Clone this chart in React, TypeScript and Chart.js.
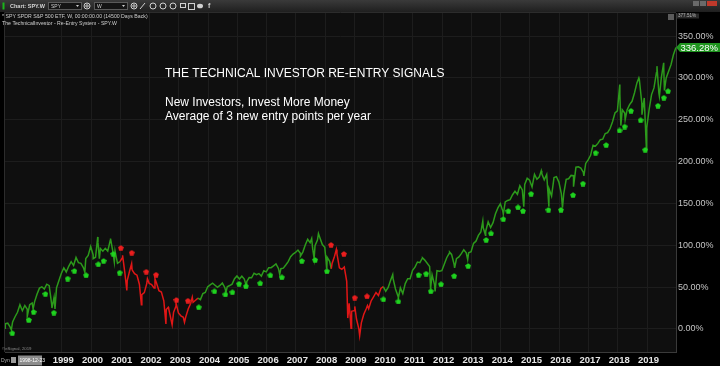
import React, { useEffect, useRef } from "react";
import { Chart, registerables } from "chart.js";

Chart.register(...registerables);

// ---------- data (percent change of SPY weekly) ----------
const yearTicks = [1999, 2000, 2001, 2002, 2003, 2004, 2005, 2006, 2007, 2008, 2009, 2010, 2011, 2012, 2013, 2014, 2015, 2016, 2017, 2018, 2019];
const pctTicks = [0, 50, 100, 150, 200, 250, 300, 350];

const startDate = "1997-01-24";
const startPct = 1;

// month-end values per year (Jan..Dec), percent
const pct1997 = [6.2, 6.9, 2.2, 8.4, 14.6, 19.9, 28.9, 21.8, 28.1, 23.5, 29.1, 31.1];
const pct1998 = [32.4, 41.6, 48.8, 50.4, 47.7, 53.5, 51.8, 29.7, 37.8, 49.1, 58.0, 66.6];
const pct1999 = [73.0, 68.1, 74.9, 80.4, 75.8, 85.5, 79.2, 78.4, 73.4, 84.1, 87.8, 98.5];
const pct2000 = [88.7, 85.7, 103.2, 96.1, 93.0, 96.4, 93.1, 105.4, 94.1, 93.2, 78.4, 80.4];
const pct2001 = [85.1, 67.6, 57.7, 69.5, 70.7, 66.1, 64.2, 53.2, 41.1, 43.4, 54.2, 54.5];
const pct2002 = [53.0, 48.9, 55.0, 45.7, 44.2, 33.7, 23.2, 24.3, 10.5, 19.9, 27.3, 19.2];
const pct2003 = [15.7, 13.9, 14.5, 23.8, 30.4, 31.9, 34.3, 36.8, 35.1, 42.2, 43.6, 50.4];
const pct2004 = [52.7, 54.7, 52.2, 49.7, 52.0, 54.9, 49.6, 50.4, 51.9, 53.6, 60.0, 63.4];
const pct2005 = [59.7, 63.0, 59.7, 56.5, 61.5, 61.2, 66.6, 65.0, 66.2, 63.2, 69.5, 68.2];
const pct2006 = [73.2, 73.2, 75.4, 77.7, 72.3, 72.0, 72.7, 76.5, 80.5, 86.4, 89.5, 91.4];
const pct2007 = [94.3, 90.4, 91.9, 100.4, 107.2, 103.2, 96.8, 99.5, 106.2, 109.1, 100.9, 97.6];
const pct2008 = [85.7, 80.8, 78.3, 86.9, 89.7, 73.0, 71.4, 74.0, 56.8, 30.8, 21.1, 21.9];
const pct2009 = [11.9, -0.1, 7.4, 17.6, 24.2, 24.3, 33.5, 38.5, 43.6, 40.0, 48.5, 50.5];
const pct2010 = [45.1, 49.6, 58.1, 60.5, 47.8, 39.5, 49.1, 42.3, 54.2, 60.1, 60.1, 70.0];
const pct2011 = [73.9, 80.0, 79.2, 84.5, 82.3, 78.5, 74.7, 64.7, 53.0, 69.6, 68.9, 69.6];
const pct2012 = [77.4, 85.1, 90.3, 89.1, 77.7, 83.9, 86.1, 90.0, 94.6, 91.0, 91.1, 92.4];
const pct2013 = [102.3, 104.9, 111.8, 115.8, 120.9, 116.8, 128.0, 121.2, 127.0, 137.6, 144.6, 149.6];
const pct2014 = [140.8, 151.8, 153.6, 154.5, 160.4, 164.5, 160.9, 171.2, 166.2, 172.6, 180.0, 177.7];
const pct2015 = [169.6, 184.7, 178.9, 181.8, 185.3, 178.2, 184.5, 167.2, 158.9, 180.9, 182.0, 175.5];
const pct2016 = [161.8, 161.6, 178.8, 179.5, 183.5, 183.1, 193.4, 193.8, 192.3, 187.3, 197.8, 202.0];
const pct2017 = [207.5, 219.6, 218.5, 221.7, 226.2, 226.8, 233.5, 234.5, 239.5, 247.6, 258.1, 260.7];
const pct2018 = [280.9, 262.0, 258.0, 262.0, 268.0, 272.0, 282.0, 294.0, 298.0, 270.0, 276.0, 240.0];
const pct2019 = [262.0, 280.0, 288.0, 306.0, 282.0, 300.0, 312.0, 300.0, 308.0, 316.0, 328.0, 336.28];
const closeYears = [1997, 1998, 1999, 2000, 2001, 2002, 2003, 2004, 2005, 2006, 2007, 2008, 2009, 2010, 2011, 2012, 2013, 2014, 2015, 2016, 2017, 2018, 2019];
const closeRows = [pct1997, pct1998, pct1999, pct2000, pct2001, pct2002, pct2003, pct2004, pct2005, pct2006, pct2007, pct2008, pct2009, pct2010, pct2011, pct2012, pct2013, pct2014, pct2015, pct2016, pct2017, pct2018, pct2019];

// intra-month swings (spikes / dips)
const swingDates = [
  "1997-04-11", "1997-10-27", "1998-01-09", "1998-08-31", "1998-10-08", "1999-10-15", "2000-01-28", "2000-03-24",
  "2000-04-14", "2000-09-01", "2000-10-18", "2001-01-30", "2001-03-22", "2001-05-21", "2001-09-21", "2001-12-05",
  "2002-03-08", "2002-07-23", "2002-08-22", "2002-10-09", "2002-11-27", "2003-03-11", "2003-06-17", "2004-08-12",
  "2005-04-20", "2006-06-13", "2007-02-27", "2007-07-16", "2007-08-16", "2007-10-09", "2008-01-22", "2008-03-17",
  "2008-05-19", "2008-10-10", "2008-11-20", "2009-01-06", "2009-03-06", "2009-06-12", "2010-04-23", "2010-07-02",
  "2011-04-29", "2011-08-08", "2011-10-04", "2012-04-02", "2012-06-04", "2012-11-15", "2013-05-21", "2013-06-24",
  "2014-02-03", "2014-10-15", "2015-05-20", "2015-08-24", "2016-02-11", "2016-06-27", "2016-11-04", "2018-01-26",
  "2018-02-09", "2018-04-02", "2018-09-21", "2018-10-29", "2018-12-24", "2019-05-03", "2019-06-03", "2019-07-26",
  "2019-08-05",
];
const swingPct = [
  -1, 15, 24, 25, 24, 68, 84, 110,
  84, 108, 80, 88, 46, 78, 29, 60,
  60, 6, 26, 5, 31, 8, 38, 44,
  52, 65, 87, 108, 84, 114, 72, 72,
  95, 13, 1, 27, -8, 28, 65, 37,
  85, 48, 45, 92, 73, 83, 129, 112,
  137, 146, 189, 146, 145, 170, 183, 292,
  243, 250, 300, 256, 214, 314, 278, 318,
  285,
];

// re-entry signals (green, below the line)
const entryDates = [
  "1997-04-23", "1997-11-17", "1998-01-15", "1998-06-10", "1998-09-24", "1999-03-14", "1999-06-07", "1999-10-31",
  "2000-04-01", "2000-06-06", "2000-10-05", "2000-12-24", "2003-09-06", "2004-03-20", "2004-08-04", "2004-10-31",
  "2005-01-23", "2005-04-17", "2005-10-12", "2006-02-17", "2006-07-09", "2007-03-14", "2007-08-29", "2008-01-23",
  "2009-12-28", "2010-07-02", "2011-03-11", "2011-06-14", "2011-08-11", "2011-12-17", "2012-05-29", "2012-11-21",
  "2013-07-02", "2013-09-02", "2014-02-03", "2014-04-05", "2014-08-04", "2014-10-05", "2015-01-15", "2015-08-19",
  "2016-01-23", "2016-06-21", "2016-10-23", "2017-03-29", "2017-08-08", "2018-01-23", "2018-03-26", "2018-06-14",
  "2018-10-12", "2018-12-09", "2019-05-16", "2019-07-28", "2019-09-20",
];
const entryPct = [
  -5, 10.8, 20.3, 41.9, 19.5, 60.2, 69.4, 64.2,
  77.4, 81.3, 89.7, 67.3, 26.0, 45.1, 41.3, 43.9,
  54.1, 51.1, 54.7, 64.2, 61.8, 81.3, 82.5, 69.0,
  35.5, 32.9, 64.6, 66.1, 45.1, 53.5, 63.4, 75.3,
  106.4, 114.2, 131.3, 140.9, 145.3, 141.1, 161.5, 142.3,
  142.3, 160.0, 173.7, 210.5, 219.8, 237.2, 241.8, 260.7,
  249.4, 214.1, 266.7, 276.3, 284.1,
];

// exit signals (red, above the line)
const exitDates = ["2001-01-08", "2001-05-22", "2001-11-21", "2002-03-21", "2002-12-02", "2003-04-23", "2008-03-14", "2008-08-22", "2009-01-05", "2009-06-07"];
const exitPct = [96.9, 91.1, 68.4, 64.8, 34.7, 33.8, 100.5, 89.7, 37.4, 39.1];

const lastPct = 336.28;
const scaleTopPct = 377.51;
const scaleBottomPct = -27.5;
const firstVisible = 1997.061;
const lastVisible = 2019.99;

// ---------- helpers ----------
const GREEN_LINE = "#2c9a1b";
const RED_LINE = "#e01616";
const GREEN_DOT = "#1fd21f";
const RED_DOT = "#ea1e1e";
const FONT = "'Liberation Sans', Arial, sans-serif";

function toYear(d: string): number {
  const [y, m, dd] = d.split("-").map(Number);
  return y + (m - 1) / 12 + (dd - 1) / 365;
}

function buildLine() {
  const pts: { x: number; y: number }[] = [{ x: toYear(startDate), y: startPct }];
  closeYears.forEach((yr, i) => {
    closeRows[i].forEach((v, m) => {
      const mm = String(m + 1).padStart(2, "0");
      pts.push({ x: toYear(`${yr}-${mm}-27`), y: v });
    });
  });
  swingDates.forEach((d, i) => pts.push({ x: toYear(d), y: swingPct[i] }));
  pts.sort((a, b) => a.x - b.x);
  return pts;
}

const signals = [
  ...entryDates.map((d) => ({ x: toYear(d), red: false })),
  ...exitDates.map((d) => ({ x: toYear(d), red: true })),
].sort((a, b) => a.x - b.x);

function isRed(x: number): boolean {
  let red = false;
  for (const s of signals) {
    if (s.x <= x) red = s.red;
    else break;
  }
  return red;
}

function makeMarker(color: string): HTMLCanvasElement {
  const c = document.createElement("canvas");
  c.width = 6;
  c.height = 6;
  const g = c.getContext("2d")!;
  g.fillStyle = color;
  g.beginPath();
  for (let i = 0; i < 5; i++) {
    const a = -Math.PI / 2 + (i * 2 * Math.PI) / 5;
    const px = 3 + 3 * Math.cos(a);
    const py = 3.3 + 3 * Math.sin(a);
    if (i === 0) g.moveTo(px, py);
    else g.lineTo(px, py);
  }
  g.closePath();
  g.fill();
  return c;
}

const backgroundPlugin = {
  id: "bgPlugin",
  beforeDraw(chart: any) {
    const { ctx, chartArea } = chart;
    ctx.save();
    ctx.fillStyle = "#000000";
    ctx.fillRect(0, 0, chart.width, chart.height);
    ctx.fillStyle = "#0f0f0f";
    ctx.fillRect(chartArea.left, chartArea.top, chartArea.right - chartArea.left, chartArea.bottom - chartArea.top);
    ctx.restore();
  },
};

const decorPlugin = {
  id: "decorPlugin",
  afterDraw(chart: any) {
    const { ctx, chartArea } = chart;
    const yScale = chart.scales.y;
    ctx.save();

    // plot frame (left/top)
    ctx.strokeStyle = "#2c2c2c";
    ctx.lineWidth = 1;
    ctx.beginPath();
    ctx.moveTo(chartArea.left - 0.5, chartArea.bottom);
    ctx.lineTo(chartArea.left - 0.5, chartArea.top - 0.5);
    ctx.lineTo(chartArea.right, chartArea.top - 0.5);
    ctx.stroke();

    // toolbar
    const grad = ctx.createLinearGradient(0, 0, 0, 12);
    grad.addColorStop(0, "#3a3a3a");
    grad.addColorStop(1, "#1f1f1f");
    ctx.fillStyle = grad;
    ctx.fillRect(0, 0, chart.width, 12);
    ctx.fillStyle = "#1bb51b";
    ctx.fillRect(2.5, 2.5, 2, 7);
    ctx.textBaseline = "middle";
    ctx.fillStyle = "#d6d6d6";
    ctx.font = `bold 5.5px ${FONT}`;
    ctx.fillText("Chart: SPY.W", 10, 6.2);

    const box = (x: number, w: number, label: string) => {
      ctx.fillStyle = "#141414";
      ctx.fillRect(x, 2.5, w, 7);
      ctx.strokeStyle = "#5a5a5a";
      ctx.strokeRect(x + 0.5, 2.5, w - 1, 7);
      ctx.fillStyle = "#cfcfcf";
      ctx.font = `5px ${FONT}`;
      ctx.fillText(label, x + 3, 6.2);
      ctx.beginPath();
      ctx.moveTo(x + w - 6, 5);
      ctx.lineTo(x + w - 3, 5);
      ctx.lineTo(x + w - 4.5, 7);
      ctx.closePath();
      ctx.fill();
    };
    const ring = (x: number) => {
      ctx.strokeStyle = "#d0d0d0";
      ctx.lineWidth = 1;
      ctx.beginPath();
      ctx.arc(x, 6, 3, 0, Math.PI * 2);
      ctx.stroke();
      ctx.beginPath();
      ctx.arc(x, 6, 1.2, 0, Math.PI * 2);
      ctx.stroke();
    };
    box(48, 34, "SPY");
    ring(87);
    box(94, 34, "W");
    ring(134);
    ctx.strokeStyle = "#d0d0d0";
    ctx.beginPath();
    ctx.moveTo(140, 9);
    ctx.lineTo(145, 3);
    ctx.stroke();
    [153, 163, 173].forEach((x) => {
      ctx.beginPath();
      ctx.arc(x, 6, 3, 0, Math.PI * 2);
      ctx.stroke();
    });
    ctx.strokeRect(180.5, 3.5, 5, 4);
    ctx.strokeRect(188.5, 3.5, 6, 6);
    ctx.fillStyle = "#d0d0d0";
    ctx.beginPath();
    ctx.ellipse(200, 6, 3, 2.3, 0, 0, Math.PI * 2);
    ctx.fill();
    ctx.font = `bold 7px ${FONT}`;
    ctx.fillText("f", 208, 6.5);
    // window buttons
    ctx.fillStyle = "#6a6a6a";
    ctx.fillRect(693, 1, 6, 5);
    ctx.fillRect(700, 1, 6, 5);
    ctx.fillStyle = "#c0392b";
    ctx.fillRect(707, 1, 10, 5);

    // header lines in plot
    ctx.fillStyle = "#cfcfcf";
    ctx.font = `5.2px ${FONT}`;
    ctx.fillText("* SPY SPDR S&P 500 ETF, W, 00:00:00.00 (14500 Days Back)", 2, 16.8);
    ctx.fillText("The TechnicalInvestor - Re-Entry System - SPY.W", 2, 23.5);

    // title text
    ctx.fillStyle = "#ffffff";
    ctx.font = `12px ${FONT}`;
    ctx.fillText("THE TECHNICAL INVESTOR RE-ENTRY SIGNALS", 165, 74);
    ctx.fillText("New Investors, Invest More Money", 165, 103);
    ctx.fillText("Average of 3 new entry points per year", 165, 117);

    // top-right scale marker
    ctx.fillStyle = "#5c5c5c";
    ctx.fillRect(668, 14, 6, 6);
    ctx.fillStyle = "#2a2a2a";
    ctx.fillRect(677, 13.5, 22, 5);
    ctx.fillStyle = "#b8b8b8";
    ctx.font = `4.6px ${FONT}`;
    ctx.fillText(scaleTopPct.toFixed(2) + "%", 678, 16.2);

    // last value label
    const ly = yScale.getPixelForValue(lastPct);
    ctx.fillStyle = "#1f951f";
    ctx.beginPath();
    ctx.moveTo(676, ly);
    ctx.lineTo(680, ly - 4.5);
    ctx.lineTo(720, ly - 4.5);
    ctx.lineTo(720, ly + 4.5);
    ctx.lineTo(680, ly + 4.5);
    ctx.closePath();
    ctx.fill();
    ctx.fillStyle = "#ffffff";
    ctx.font = `9.5px ${FONT}`;
    ctx.fillText(lastPct.toFixed(2) + "%", 680.5, ly + 0.5);

    // bottom left
    ctx.fillStyle = "#8a8a8a";
    ctx.font = `4.3px ${FONT}`;
    ctx.fillText("©eSignal, 2019", 2, 349);
    ctx.fillStyle = "#b0b0b0";
    ctx.font = `5px ${FONT}`;
    ctx.fillText("Dyn", 1, 361);
    ctx.fillStyle = "#9a9a9a";
    ctx.fillRect(11, 357, 5, 6);
    ctx.fillStyle = "#8c8c8c";
    ctx.fillRect(18, 355.5, 24, 10);
    ctx.fillStyle = "#ffffff";
    ctx.font = `5px ${FONT}`;
    ctx.fillText("1998-12-23", 19.5, 361);

    ctx.restore();
  },
};

export default function App() {
  const ref = useRef<HTMLCanvasElement | null>(null);

  useEffect(() => {
    document.body.style.margin = "0";
    document.body.style.background = "#000";
    const canvas = ref.current;
    if (!canvas) return;
    const linePts = buildLine();
    const entryPts = entryDates.map((d, i) => ({ x: toYear(d), y: entryPct[i] }));
    const exitPts = exitDates.map((d, i) => ({ x: toYear(d), y: exitPct[i] }));
    const greenMarker = makeMarker(GREEN_DOT);
    const redMarker = makeMarker(RED_DOT);

    const chart = new Chart(canvas, {
      type: "line",
      data: {
        datasets: [
          {
            type: "scatter",
            data: entryPts,
            pointStyle: greenMarker as any,
            pointRadius: 3,
            showLine: false,
            order: 1,
          } as any,
          {
            type: "scatter",
            data: exitPts,
            pointStyle: redMarker as any,
            pointRadius: 3,
            showLine: false,
            order: 1,
          } as any,
          {
            type: "line",
            data: linePts,
            borderColor: GREEN_LINE,
            borderWidth: 1.5,
            pointRadius: 0,
            tension: 0,
            order: 2,
            segment: {
              borderColor: (c: any) => (isRed((c.p0.parsed.x + c.p1.parsed.x) / 2) ? RED_LINE : GREEN_LINE),
            },
          } as any,
        ],
      },
      options: {
        animation: false,
        responsive: false,
        maintainAspectRatio: false,
        events: [],
        layout: { padding: { left: 2, top: 13, right: 0, bottom: 0 } },
        plugins: { legend: { display: false }, tooltip: { enabled: false }, title: { display: false } },
        scales: {
          x: {
            type: "linear",
            position: "bottom",
            min: firstVisible,
            max: lastVisible,
            afterBuildTicks: (s: any) => {
              s.ticks = yearTicks.map((v) => ({ value: v }));
            },
            afterFit: (s: any) => {
              s.height = 14;
            },
            grid: { color: "#1d1d1d", drawTicks: false, lineWidth: 1 },
            border: { color: "#3a3a3a" },
            ticks: {
              color: "#e6e6e6",
              font: { family: FONT, size: 9.5, weight: "bold" },
              padding: 3,
              labelOffset: 1.5,
              maxRotation: 0,
              autoSkip: false,
              callback: (v: any) => String(v),
            },
          },
          y: {
            type: "linear",
            position: "right",
            min: scaleBottomPct,
            max: scaleTopPct,
            afterBuildTicks: (s: any) => {
              s.ticks = pctTicks.map((v) => ({ value: v }));
            },
            afterFit: (s: any) => {
              s.width = 44;
            },
            grid: { color: "#1d1d1d", drawTicks: false, lineWidth: 1 },
            border: { color: "#3a3a3a" },
            ticks: {
              color: "#c4c4c4",
              font: { family: FONT, size: 9 },
              padding: 2,
              callback: (v: any) => Number(v).toFixed(2) + "%",
            },
          },
        },
      } as any,
      plugins: [backgroundPlugin, decorPlugin],
    });
    return () => chart.destroy();
  }, []);

  return (
    <div style={{ width: 720, height: 366, background: "#000" }}>
      <canvas ref={ref} width={720} height={366} style={{ display: "block", width: 720, height: 366 }} />
    </div>
  );
}
